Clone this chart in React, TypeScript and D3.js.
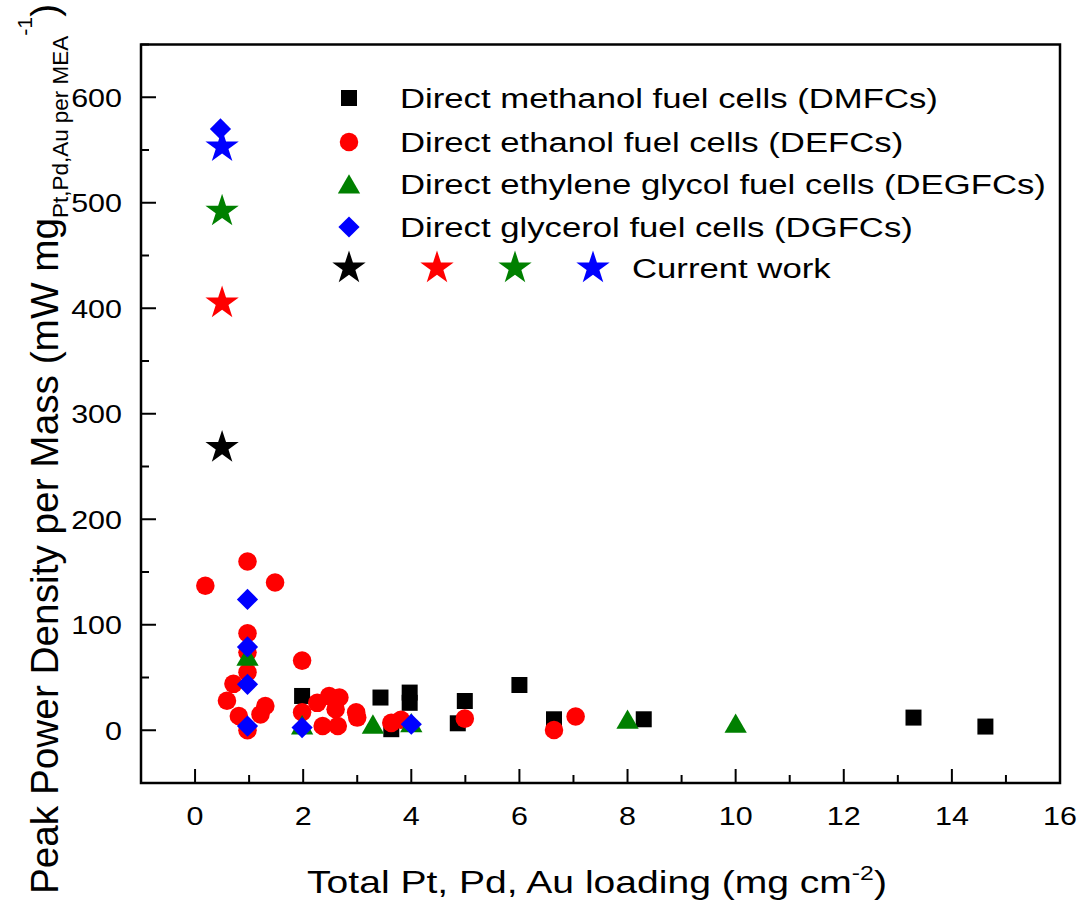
import React from "react";
import * as d3 from "d3";

// ---------- data ----------
const xTickValues = [0, 2, 4, 6, 8, 10, 12, 14, 16];
const xMinorValues = [-1, 1, 3, 5, 7, 9, 11, 13, 15];
const yTickValues = [0, 100, 200, 300, 400, 500, 600];
const yMinorValues = [-50, 50, 150, 250, 350, 450, 550, 650];

// Direct methanol fuel cells (black squares)
const dmfcPoints: [number, number][] = [
  [1.98, 32.5], [3.43, 31], [3.63, 1], [3.97, 35.7], [3.97, 26], [4.86, 6.6],
  [4.99, 27.7], [6.0, 42.9], [6.64, 10.4], [8.3, 10.4], [13.29, 12], [14.62, 3.5],
];
// Direct ethanol fuel cells (red circles)
const defcPoints: [number, number][] = [
  [0.19, 137], [0.97, 160], [1.48, 140], [0.97, 92], [0.97, 74], [0.97, 55],
  [0.71, 44], [0.59, 28], [0.81, 13.5], [1.3, 23], [1.21, 15], [0.97, 0],
  [1.98, 66], [1.98, 17], [2.26, 26], [2.48, 32.5], [2.67, 31], [2.6, 20],
  [2.98, 17], [3.0, 12], [2.36, 4], [2.64, 4], [3.63, 7], [3.81, 10],
  [4.99, 11], [6.64, 0.3], [7.04, 13],
];
// Direct ethylene glycol fuel cells (green triangles)
const degfcPoints: [number, number][] = [
  [0.97, 70], [1.98, 5], [3.29, 5.7], [4.0, 7], [8.0, 10.4], [10.0, 6.6],
];
// Direct glycerol fuel cells (blue diamonds)
const dgfcPoints: [number, number][] = [
  [0.47, 570], [0.97, 124], [0.97, 79], [0.97, 43.5], [0.97, 4], [1.98, 2.5], [4.0, 5.7],
];
// Current work (stars)
const currentX = [0.5, 0.5, 0.5, 0.5];
const currentY = [268, 405, 492, 553];
const currentColors = ["#000000", "#ff0000", "#008000", "#0000ff"];

const legendLabels = [
  "Direct methanol fuel cells (DMFCs)",
  "Direct ethanol fuel cells (DEFCs)",
  "Direct ethylene glycol fuel cells (DEGFCs)",
  "Direct glycerol fuel cells (DGFCs)",
];
const currentLabel = "Current work";

// ---------- layout ----------
const W = 1077;
const H = 901;
const left = 141;
const right = 1060;
const top = 44.5;
const bottom = 783;
const FONT = "'Liberation Sans', Arial, Helvetica, sans-serif";
const STRETCH = 1.24;

const x = d3.scaleLinear().domain([-1, 16]).range([left, right]);
const y = d3.scaleLinear().domain([-50, 650]).range([bottom, top]);

const sqPath = d3.symbol(d3.symbolSquare, 256)()!;
const circPath = d3.symbol(d3.symbolCircle, 270)()!;
const triPath = d3.symbol(d3.symbolTriangle, 215)()!;
const diaPath = d3.symbol(d3.symbolSquare, 225)()!;
const starPath = d3.symbol(d3.symbolStar, 345)()!;

type Kind = "square" | "circle" | "triangle" | "diamond";
const series: { pts: [number, number][]; kind: Kind; color: string }[] = [
  { pts: dmfcPoints, kind: "square", color: "#000000" },
  { pts: defcPoints, kind: "circle", color: "#ff0000" },
  { pts: degfcPoints, kind: "triangle", color: "#008000" },
  { pts: dgfcPoints, kind: "diamond", color: "#0000ff" },
];

function Marker({ kind, cx, cy, color }: { kind: Kind; cx: number; cy: number; color: string }) {
  if (kind === "square") return <path d={sqPath} transform={`translate(${cx},${cy})`} fill={color} />;
  if (kind === "circle") return <path d={circPath} transform={`translate(${cx},${cy})`} fill={color} />;
  if (kind === "triangle") return <path d={triPath} transform={`translate(${cx},${cy + 3})`} fill={color} />;
  return <path d={diaPath} transform={`translate(${cx},${cy}) rotate(45)`} fill={color} />;
}

export default function App() {
  const legendX = 349;
  const legendRows = [98, 142, 184, 227, 268];
  const legendStarX = [349, 437, 515, 593];
  return (
    <svg
      width={W}
      height={H}
      viewBox={`0 0 ${W} ${H}`}
      style={{ position: "absolute", left: 0, top: 0, background: "#fff" }}
      fontFamily={FONT}
    >
      <rect x={0} y={0} width={W} height={H} fill="#fff" />
      {/* ticks */}
      {xTickValues.map((v) => (
        <line key={"xt" + v} x1={x(v)} x2={x(v)} y1={bottom} y2={bottom - 14} stroke="#000" strokeWidth={2} />
      ))}
      {xMinorValues.map((v) => (
        <line key={"xm" + v} x1={x(v)} x2={x(v)} y1={bottom} y2={bottom - 8} stroke="#000" strokeWidth={2} />
      ))}
      {yTickValues.map((v) => (
        <line key={"yt" + v} x1={left} x2={left + 15} y1={y(v)} y2={y(v)} stroke="#000" strokeWidth={2} />
      ))}
      {yMinorValues.map((v) => (
        <line key={"ym" + v} x1={left} x2={left + 8} y1={y(v)} y2={y(v)} stroke="#000" strokeWidth={2} />
      ))}
      {/* tick labels */}
      {xTickValues.map((v) => (
        <text
          key={"xl" + v}
          transform={`translate(${x(v)},825) scale(1.15,1)`}
          textAnchor="middle"
          fontSize={26.5}
          fill="#000"
        >
          {v}
        </text>
      ))}
      {yTickValues.map((v) => (
        <text
          key={"yl" + v}
          transform={`translate(${left - 19},${y(v) + 9.5}) scale(1.15,1)`}
          textAnchor="end"
          fontSize={26.5}
          fill="#000"
        >
          {v}
        </text>
      ))}
      {/* data */}
      {series.map((s, si) =>
        s.pts.map((p, i) => <Marker key={si + "-" + i} kind={s.kind} cx={x(p[0])} cy={y(p[1])} color={s.color} />)
      )}
      {currentX.map((v, i) => (
        <path key={"star" + i} d={starPath} transform={`translate(${x(v)},${y(currentY[i])})`} fill={currentColors[i]} />
      ))}
      {/* legend */}
      {series.map((s, i) => (
        <g key={"lg" + i}>
          <Marker kind={s.kind} cx={legendX} cy={legendRows[i]} color={s.color} />
          <text transform={`translate(400,${legendRows[i] + 10}) scale(${STRETCH},1)`} fontSize={28} fill="#000">
            {legendLabels[i]}
          </text>
        </g>
      ))}
      {legendStarX.map((lx, i) => (
        <path key={"ls" + i} d={starPath} transform={`translate(${lx},${legendRows[4]})`} fill={currentColors[i]} />
      ))}
      <text transform={`translate(632,${legendRows[4] + 10}) scale(${STRETCH},1)`} fontSize={28} fill="#000">
        {currentLabel}
      </text>
      {/* frame */}
      <rect x={left} y={top} width={right - left} height={bottom - top} fill="none" stroke="#000" strokeWidth={2.5} />
      {/* axis titles */}
      <text transform={`translate(597,893) scale(1.24,1)`} textAnchor="middle" fontSize={31.5} fill="#000">
        Total Pt, Pd, Au loading (mg cm
        <tspan fontSize={20} dy={-13}>-2</tspan>
        <tspan dy={13}>)</tspan>
      </text>
      <text transform={`translate(58,449) rotate(-90) scale(1.02,1)`} textAnchor="middle" fontSize={38} fill="#000">
        Peak Power Density per Mass (mW mg
        <tspan fontSize={22} dy={10}>Pt,Pd,Au per MEA</tspan>
        <tspan fontSize={21} dy={-36}>-1</tspan>
        <tspan dy={26}>)</tspan>
      </text>
    </svg>
  );
}
